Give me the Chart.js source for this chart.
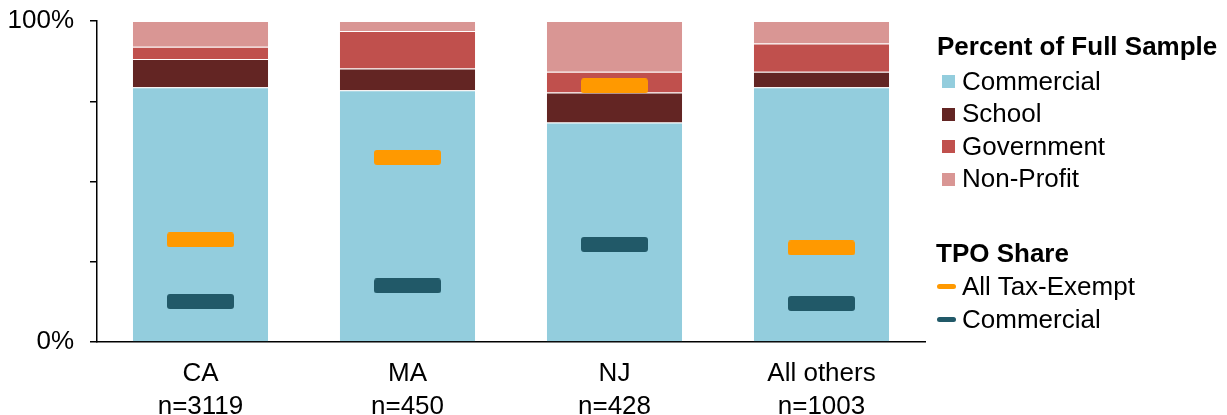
<!DOCTYPE html>
<html><head><meta charset="utf-8">
<script src="https://cdn.jsdelivr.net/npm/chart.js@4"></script>
<style>
html,body{margin:0;padding:0;background:#fff;}
#wrap{position:relative;width:1227px;height:415px;overflow:hidden;background:#fff;}
#c{position:absolute;left:0;top:0;}
.lg{position:absolute;font-family:"Liberation Sans",Arial,sans-serif;font-size:26px;line-height:26px;color:#000;white-space:nowrap;}
.ttl{font-weight:bold;}
.sw{position:absolute;}
</style></head><body>
<div id="wrap"><canvas id="c" width="1227" height="415"></canvas><div id="legend"></div></div>
<script>
// ---- data ----
const categories = [["CA","n=3119"],["MA","n=450"],["NJ","n=428"],["All others","n=1003"]];
const commercial = [79.4, 78.4, 68.4, 79.4];
const school = [8.8, 6.8, 9.3, 4.8];
const government = [3.8, 11.7, 6.5, 8.8];
const nonProfit = [8.0, 3.1, 15.8, 7.0];
const tpoTaxExempt = [31.8, 57.5, 79.8, 29.3];
const tpoCommercial = [12.6, 17.5, 30.4, 12.0];
const yTickLabels = {0: "0%", 100: "100%"};
const sampleTitle = "Percent of Full Sample";
const tpoTitle = "TPO Share";
const sampleNames = ["Commercial", "School", "Government", "Non-Profit"];
const tpoNames = ["All Tax-Exempt", "Commercial"];

// ---- styles ----
const FONT = '"Liberation Sans", Arial, sans-serif';
const FS = 26;
const barColors = ["#93CDDD", "#632523", "#C0504D", "#D99694"];
const tpoColors = ["#FF9900", "#215968"];

function markerCanvas(color) {
  const w = 67, h = 15, r = 3;
  const c = document.createElement('canvas');
  c.width = w; c.height = h;
  const x = c.getContext('2d');
  x.fillStyle = color;
  x.beginPath();
  x.moveTo(r, 0); x.lineTo(w - r, 0); x.quadraticCurveTo(w, 0, w, r);
  x.lineTo(w, h - r); x.quadraticCurveTo(w, h, w - r, h);
  x.lineTo(r, h); x.quadraticCurveTo(0, h, 0, h - r);
  x.lineTo(0, r); x.quadraticCurveTo(0, 0, r, 0);
  x.closePath(); x.fill();
  return c;
}

const barSeries = [commercial, school, government, nonProfit];
const datasets = [];
barSeries.forEach((vals, i) => {
  datasets.push({
    type: 'bar', label: sampleNames[i], data: vals, backgroundColor: barColors[i],
    borderColor: 'rgba(255,255,255,0.2)', borderWidth: 1, stack: 'sample', order: 2,
    categoryPercentage: 1.0, barPercentage: 0.662
  });
});
[tpoTaxExempt, tpoCommercial].forEach((vals, i) => {
  datasets.push({
    type: 'line', label: tpoNames[i], data: vals, showLine: false,
    pointStyle: markerCanvas(tpoColors[i]), pointRadius: 10,
    backgroundColor: tpoColors[i], borderColor: tpoColors[i],
    stack: 'tpo' + i, order: 1
  });
});

new Chart(document.getElementById('c'), {
  type: 'bar',
  data: { labels: categories, datasets },
  options: {
    responsive: false, animation: false, devicePixelRatio: 1,
    layout: { padding: { top: 21, right: 302, bottom: 0, left: 0 } },
    plugins: { legend: { display: false }, tooltip: { enabled: false } },
    scales: {
      x: {
        stacked: true,
        grid: { display: false, drawTicks: false },
        border: { display: true, color: '#000', width: 1.5 },
        ticks: { color: '#000', padding: 15.5, font: { family: FONT, size: FS, lineHeight: 33 / FS }, maxRotation: 0 },
        afterFit: s => { s.height = 73; s.paddingTop = 0; }
      },
      y: {
        stacked: true, min: 0, max: 100,
        grid: { display: true, drawOnChartArea: false, drawTicks: true, tickLength: 7, color: '#000', lineWidth: 1.5 },
        border: { display: true, color: '#000', width: 1.5 },
        ticks: { stepSize: 25, color: '#000', padding: 16, font: { family: FONT, size: FS },
                 callback: v => (yTickLabels[v] !== undefined ? yTickLabels[v] : '') },
        afterFit: s => { s.width = 97; s.paddingTop = 0; s.paddingBottom = 0; }
      }
    }
  }
});

// ---- HTML legend (real text) ----
const lg = document.getElementById('legend');
function addText(txt, left, baseline, bold) {
  const d = document.createElement('div');
  d.className = 'lg' + (bold ? ' ttl' : '');
  d.textContent = txt;
  d.style.left = left + 'px';
  d.style.top = (baseline - 0.8465 * FS) + 'px';
  lg.appendChild(d);
}
function addBox(left, top, w, h, color, radius) {
  const d = document.createElement('div');
  d.className = 'sw';
  Object.assign(d.style, { left: left + 'px', top: top + 'px', width: w + 'px', height: h + 'px', background: color, borderRadius: radius + 'px' });
  lg.appendChild(d);
}
addText(sampleTitle, 937, 55, true);
const sampleBase = [90, 122.5, 155, 187.5];
sampleNames.forEach((n, i) => {
  addBox(942, sampleBase[i] - 14.8, 13, 13, barColors[i], 0);
  addText(n, 962, sampleBase[i], false);
});
addText(tpoTitle, 936, 261.7, true);
const tpoBase = [295, 328];
tpoNames.forEach((n, i) => {
  addBox(937, tpoBase[i] - 10.8, 19, 5, tpoColors[i], 2.5);
  addText(n, 962, tpoBase[i], false);
});
</script>
</body></html>
